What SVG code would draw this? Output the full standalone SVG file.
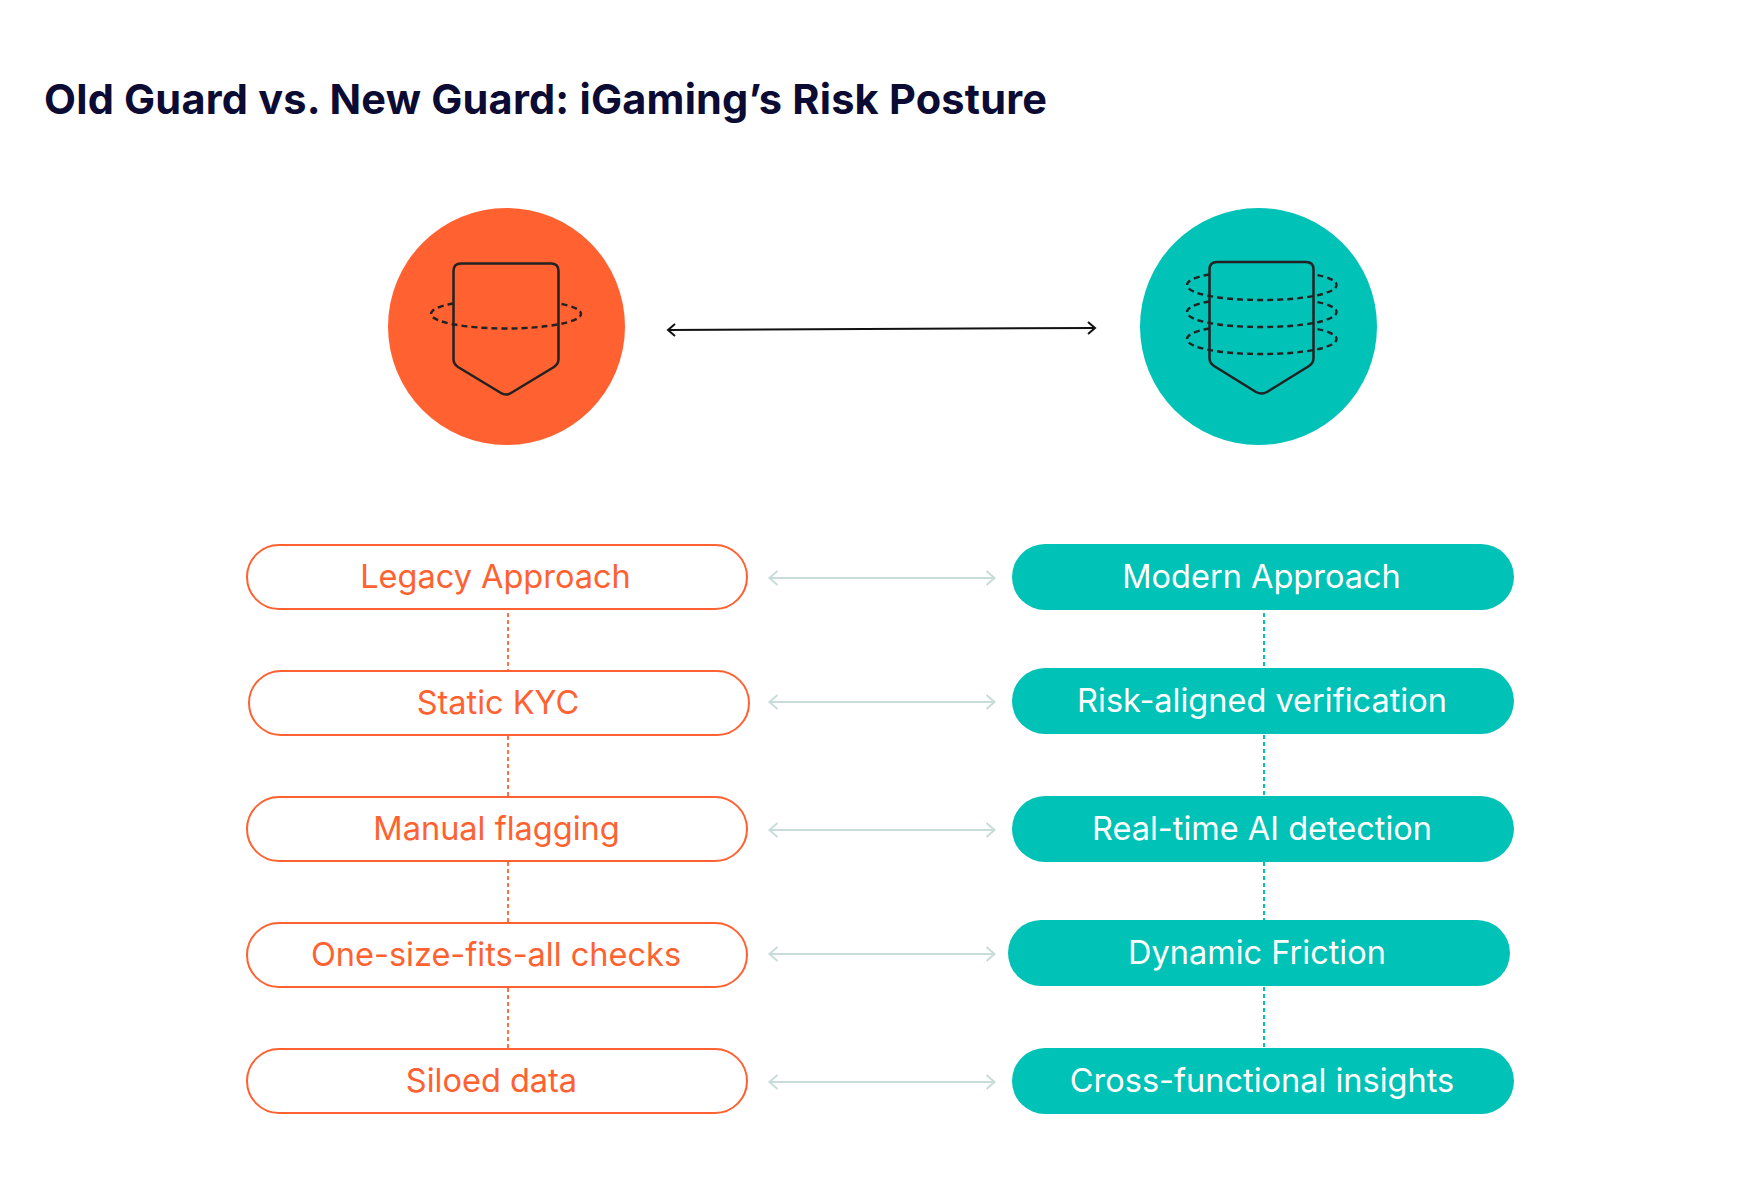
<svg xmlns="http://www.w3.org/2000/svg" width="1760" height="1200" viewBox="0 0 1760 1200">
<defs>
<marker id="headS" viewBox="-10 -8 20 16" markerWidth="20" markerHeight="16" markerUnits="userSpaceOnUse" refX="0" refY="0" orient="auto-start-reverse"><path d="M-8,-7 L0,0 L-8,7" fill="none" stroke="#c9dcdc" stroke-width="2"/></marker>
<marker id="headB" viewBox="-10 -8 20 16" markerWidth="20" markerHeight="16" markerUnits="userSpaceOnUse" refX="0" refY="0" orient="auto-start-reverse"><path d="M-7,-6 L0,0 L-7,6" fill="none" stroke="#111" stroke-width="2"/></marker>
</defs>
<style>
text{font-family:Inter,"Liberation Sans",sans-serif;}
.t{font-size:32.500px;font-weight:400;text-anchor:middle}
.o{fill:#ff6130}.w{fill:#fff}
.po{fill:#fff;stroke:#ff6130;stroke-width:2}
.pt{fill:#00c2b6}
.sh{fill:none;stroke:#222;stroke-width:2.500;stroke-linejoin:round}
.dh{fill:none;stroke:#222;stroke-width:2.400;stroke-dasharray:6 4}
.da{stroke:#c9dcdc;stroke-width:2;fill:none;marker-start:url(#headS);marker-end:url(#headS)}
.vo{stroke:#ff6130;stroke-width:1.800;stroke-dasharray:4 3}
.vt{stroke:#00c2b6;stroke-width:2;stroke-dasharray:4 3}
</style>
<rect width="1760" height="1200" fill="#fff"/>
<text id="title" x="44" y="114" font-size="41.500" font-weight="700" fill="#0b0b33" textLength="1003">Old Guard vs. New Guard: iGaming’s Risk Posture</text>
<g id="connectors">
<path d="M668,330 L1095,328" fill="none" stroke="#111" stroke-width="2" marker-start="url(#headB)" marker-end="url(#headB)"/>
<path class="da" d="M769.500,578 H994.500"/><path class="da" d="M769.500,702 H994.500"/><path class="da" d="M769.500,830 H994.500"/><path class="da" d="M769.500,954 H994.500"/><path class="da" d="M769.500,1082 H994.500"/>
<path class="vo" d="M508,613 V670"/><path class="vo" d="M508,736 V796"/><path class="vo" d="M508,862 V922"/><path class="vo" d="M508,988 V1048"/>
<path class="vt" d="M1264,613 V667"/><path class="vt" d="M1264,735 V796"/><path class="vt" d="M1264,862 V920"/><path class="vt" d="M1264,987 V1048"/>
</g>
<g id="old-guard">
<circle cx="506.500" cy="326.500" r="118.500" fill="#ff6130"/>
<path class="dh" d="M453.500,303.500 C438,306 431,310 431,314 C431,322 465,328.500 506,328.500 C547,328.500 581,322 581,314 C581,310 574,306 558.500,303.500"/>
<path class="sh" d="M461,263.500 H551 Q558.500,263.500 558.500,271 V359 Q558.500,364 554,367 L511,393 Q506,396 501,393 L458,367 Q453.500,364 453.500,359 V271 Q453.500,263.500 461,263.500Z"/>
</g>
<g id="new-guard">
<circle cx="1258.500" cy="326.500" r="118.500" fill="#00c2b6"/>
<path class="dh" d="M1209.500,274.500 C1194,277 1187,281 1187,285 C1187,294 1220,300 1261.500,300 C1303,300 1336.500,294 1336.500,285 C1336.500,281 1329,277 1314,274.500"/>
<path class="dh" d="M1209.500,301.500 C1194,304 1187,308 1187,312 C1187,321 1220,327 1261.500,327 C1303,327 1336.500,321 1336.500,312 C1336.500,308 1329,304 1314,301.500"/>
<path class="dh" d="M1209.500,328.500 C1194,331 1187,335 1187,339 C1187,348 1220,354 1261.500,354 C1303,354 1336.500,348 1336.500,339 C1336.500,335 1329,331 1314,328.500"/>
<path class="sh" d="M1217,262 H1306 Q1313.500,262 1313.500,269.500 V358 Q1313.500,363 1309,366 L1267,392 Q1261.500,395 1256,392 L1214,366 Q1209.500,363 1209.500,358 V269.500 Q1209.500,262 1217,262Z"/>
</g>
<g id="legacy"><rect class="po" x="247" y="545" width="500" height="64" rx="32"/><text class="t o" x="495.500" y="588">Legacy Approach</text></g>
<g id="static"><rect class="po" x="249" y="671" width="500" height="64" rx="32"/><text class="t o" x="498" y="714">Static KYC</text></g>
<g id="manual"><rect class="po" x="247" y="797" width="500" height="64" rx="32"/><text class="t o" x="496.500" y="840">Manual flagging</text></g>
<g id="onesize"><rect class="po" x="247" y="923" width="500" height="64" rx="32"/><text class="t o" x="496" y="966">One-size-fits-all checks</text></g>
<g id="siloed"><rect class="po" x="247" y="1049" width="500" height="64" rx="32"/><text class="t o" x="491.500" y="1092">Siloed data</text></g>
<g id="modern"><rect class="pt" x="1012" y="544" width="502" height="66" rx="33"/><text class="t w" x="1261.500" y="588">Modern Approach</text></g>
<g id="risk"><rect class="pt" x="1012" y="668" width="502" height="66" rx="33"/><text class="t w" x="1262" y="712">Risk-aligned verification</text></g>
<g id="realtime"><rect class="pt" x="1012" y="796" width="502" height="66" rx="33"/><text class="t w" x="1262" y="840">Real-time AI detection</text></g>
<g id="dynamic"><rect class="pt" x="1008" y="920" width="502" height="66" rx="33"/><text class="t w" x="1257" y="964">Dynamic Friction</text></g>
<g id="cross"><rect class="pt" x="1012" y="1048" width="502" height="66" rx="33"/><text class="t w" x="1262" y="1092">Cross-functional insights</text></g>
</svg>
